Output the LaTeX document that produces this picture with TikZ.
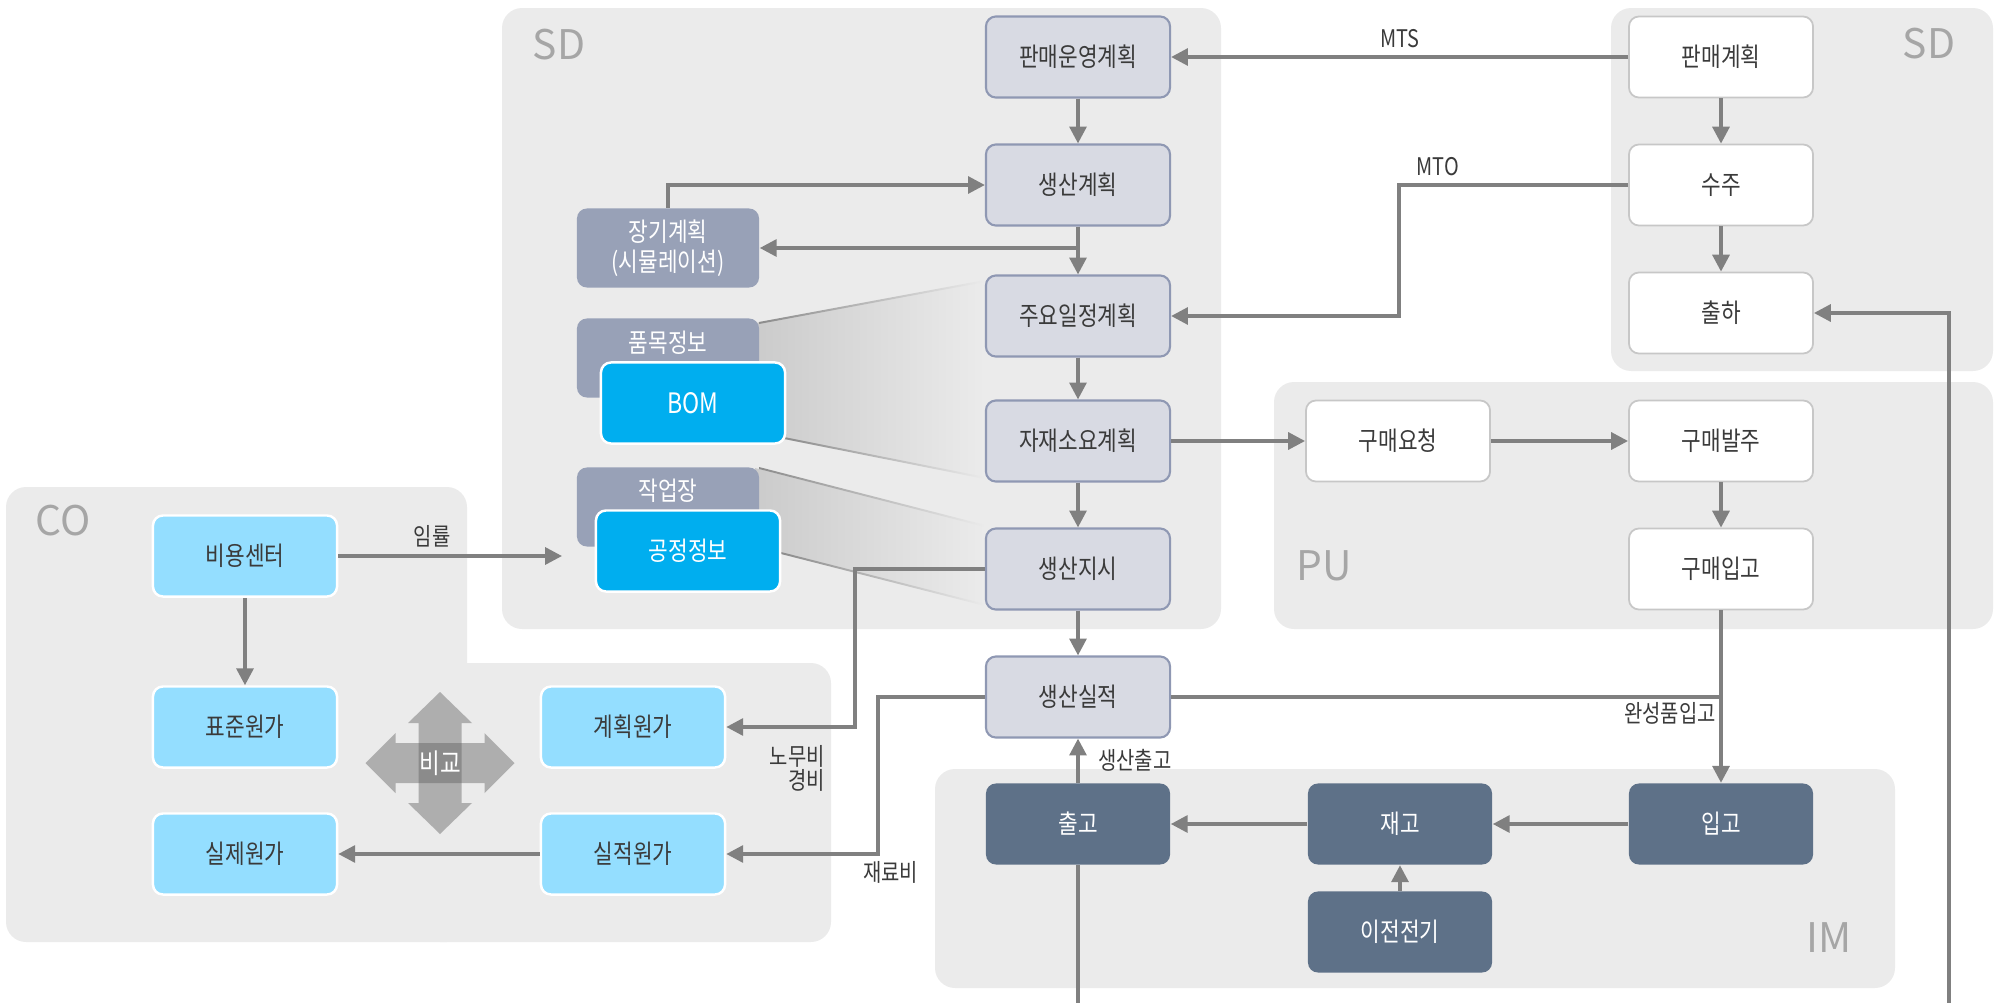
\documentclass[tikz,border=0pt]{standalone}
\usepackage{fontspec}
\setmainfont{Noto Sans CJK KR}[FakeStretch=0.82]
\newfontfamily\tagfont{Noto Sans CJK KR}
\usepackage{tikz}
\usetikzlibrary{arrows.meta}
\usetikzlibrary{calc}
\tikzset{>={Triangle[length=4.8pt,width=4.8pt]}}
\definecolor{panel}{HTML}{EBEBEB}
\definecolor{linkcol}{HTML}{808080}
\definecolor{sdfill}{HTML}{D8DAE3}
\definecolor{sdline}{HTML}{8F98B3}
\definecolor{infofill}{HTML}{98A1B7}
\definecolor{master}{HTML}{00AEEF}
\definecolor{cofill}{HTML}{94DEFF}
\definecolor{imfill}{HTML}{5E7188}
\definecolor{ink}{HTML}{3A3A3A}
\definecolor{tagcol}{HTML}{A6A6A6}
\definecolor{fade}{HTML}{CBCBCB}
\definecolor{fadeline}{HTML}{8C8C8C}
\definecolor{cmpfill}{HTML}{5B5B5B}
\tikzset{
  flowbox/.style={rounded corners=0.1cm, minimum width=1.84cm, minimum height=0.81cm,
    inner sep=0pt, align=center, font=\fontsize{7.4pt}{8.4pt}\selectfont},
  sdbox/.style={flowbox, fill=sdfill, draw=sdline, line width=0.6pt, text=ink},
  whitebox/.style={flowbox, fill=white, draw=black!22, line width=0.5pt, text=ink},
  infobox/.style={flowbox, fill=infofill, text=white, minimum width=1.82cm, minimum height=0.79cm},
  infotext/.style={text=white, font=\fontsize{7.4pt}{8pt}\selectfont, inner sep=0pt, anchor=center},
  masterbox/.style={flowbox, fill=master, draw=white, line width=0.7pt, text=white},
  cobox/.style={flowbox, fill=cofill, draw=white, line width=0.7pt, text=ink},
  imbox/.style={flowbox, fill=imfill, text=white},
  lbl/.style={text=ink, font=\fontsize{6.9pt}{6.9pt}\selectfont, inner sep=1pt},
  modtag/.style={text=tagcol, font=\tagfont\fontsize{11.6pt}{12pt}\selectfont, inner sep=0pt, anchor=base west},
  link/.style={draw=linkcol, line width=1pt},
}

\begin{document}
\begin{tikzpicture}[x=0.01cm, y=-0.01cm]
    \useasboundingbox (0,0) rectangle (1999,1003);
    % module panels
    \fill[panel, rounded corners=0.2cm] (502,8) rectangle (1221,629);
    \fill[panel, rounded corners=0.2cm] (1611,8) rectangle (1993,371);
    \fill[panel, rounded corners=0.2cm] (1274,382) rectangle (1993,629);
    \fill[panel, rounded corners=0.2cm] (6,487) rectangle (467,942);
    \fill[panel, rounded corners=0.2cm] (420,663) rectangle (831,942);
    \fill[panel, rounded corners=0.2cm] (935,769) rectangle (1895,988);
    \node[modtag] (sdtag) at (532,59) {SD};
    \node[modtag] (sdtagr) at (1902,58) {SD};
    \node[modtag] (cotag) at (35,535) {CO};
    \node[modtag] (putag) at (1296,580) {PU};
    \node[modtag] (imtag) at (1806,952) {IM};

    % master data fans
    \shade[left color=fade, right color=panel] (755,323) -- (985,281) -- (985,478) -- (780,438) -- (780,366) -- (755,366) -- cycle;
    \shade[left color=fadeline, right color=panel] (759,322) -- (985,280) -- (985,282) -- (759,324) -- cycle;
    \shade[left color=fadeline, right color=panel] (784,437) -- (985,477) -- (985,479) -- (784,439) -- cycle;
    \shade[left color=fade, right color=panel] (755,468) -- (985,526) -- (985,605) -- (779,553) -- (775,520) -- (755,520) -- cycle;
    \shade[left color=fadeline, right color=panel] (759,467) -- (985,525) -- (985,527) -- (759,469) -- cycle;
    \shade[left color=fadeline, right color=panel] (781,552) -- (985,604) -- (985,606) -- (781,554) -- cycle;

    % SD
    \node[sdbox] (sop) at (1078,57) {판매운영계획};
    \node[sdbox] (pp) at (1078,185) {생산계획};
    \node[sdbox] (mps) at (1078,316) {주요일정계획};
    \node[sdbox] (mrp) at (1078,441) {자재소요계획};
    \node[sdbox] (order) at (1078,569) {생산지시};
    \node[sdbox] (result) at (1078,697) {생산실적};
    \node[infobox] (lt) at (668,248) {장기계획\\(시뮬레이션)};
    \node[infobox, label={[infotext, yshift=-0.25cm]north:품목정보}] (item) at (668,358) {};
    \node[masterbox, font=\fontsize{8pt}{8pt}\selectfont] (bom) at (693,403) {BOM};
    \node[infobox, label={[infotext, yshift=-0.24cm]north:작업장}] (wc) at (668,507) {};
    \node[masterbox] (rt) at (688,551) {공정정보};
    \node[whitebox] (sales) at (1721,57) {판매계획};
    \node[whitebox] (so) at (1721,185) {수주};
    \node[whitebox] (ship) at (1721,313) {출하};

    % PU
    \node[whitebox] (preq) at (1398,441) {구매요청};
    \node[whitebox] (po) at (1721,441) {구매발주};
    \node[whitebox] (gr) at (1721,569) {구매입고};

    % IM
    \node[imbox] (gi) at (1721,824) {입고};
    \node[imbox] (stock) at (1400,824) {재고};
    \node[imbox] (issue) at (1078,824) {출고};
    \node[imbox] (carry) at (1400,932) {이전전기};

    % CO
    \node[cobox] (cc) at (245,556) {비용센터};
    \node[cobox] (std) at (245,727) {표준원가};
    \node[cobox] (act) at (245,854) {실제원가};
    \node[cobox] (plan) at (633,727) {계획원가};
    \node[cobox] (real) at (633,854) {실적원가};

    \coordinate (cmp) at (440,763);
    \fill[cmpfill, fill opacity=0.42, shift={(cmp)}] (0,-71) -- (32,-40) -- (21.5,-40) -- (21.5,40) -- (32,40) -- (0,71)
        -- (-32,40) -- (-21.5,40) -- (-21.5,-40) -- (-32,-40) -- cycle;
    \fill[cmpfill, fill opacity=0.42, shift={(cmp)}] (74.5,0) -- (44.5,30) -- (44.5,20) -- (-44.5,20) -- (-44.5,30) -- (-74.5,0)
        -- (-44.5,-30) -- (-44.5,-20) -- (44.5,-20) -- (44.5,-30) -- cycle;
    \node[text=white, font=\fontsize{7.8pt}{8pt}\selectfont] (cmptext) at (cmp) {비교};

    % connectors
    \draw[link, ->] (sales.west) -- node[lbl, above=1pt] {MTS} (sop.east);
    \coordinate (mtoturn) at (1399,185);
    \draw[link, ->] (so.west) -- node[lbl, above=1pt, pos=0.83] {MTO} (mtoturn) |- (mps.east);
    \draw[link, ->] (sales.south) -- (so.north);
    \draw[link, ->] (so.south) -- (ship.north);
    \coordinate (shipin) at (1949,1003);
    \draw[link, ->] (shipin) |- (ship.east);

    \draw[link, ->] (sop.south) -- (pp.north);
    \draw[link, ->] (pp.south) -- (mps.north);
    \draw[link, ->] (mps.south) -- (mrp.north);
    \draw[link, ->] (mrp.south) -- (order.north);
    \draw[link, ->] (order.south) -- (result.north);
    \draw[link, ->] (lt.north) |- (pp.west);
    \draw[link, ->] (pp.south |- lt.east) -- (lt.east);

    \draw[link, ->] (mrp.east) -- (preq.west);
    \draw[link, ->] (preq.east) -- (po.west);
    \draw[link, ->] (po.south) -- (gr.north);
    \draw[link, ->] (gr.south) -- (gi.north);
    \draw[link] (result.east) -- (result.east -| gi.north) node[lbl, below left] {완성품입고};

    \draw[link, ->] (gi.west) -- (stock.east);
    \draw[link, ->] (stock.west) -- (issue.east);
    \draw[link, ->] (carry.north) -- (stock.south);
    \draw[link, ->] (issue.north) -- node[lbl, right=0.15cm] {생산출고} (result.south);
    \coordinate (issuein) at (1078,1003);
    \draw[link] (issuein) -- (issue.south);

    \coordinate (rate) at (562,556);
    \draw[link, ->] (cc.east) -- node[lbl, above=1pt, pos=0.42] {임률} (rate);
    \draw[link, ->] (cc.south) -- (std.north);
    \draw[link, ->] (real.west) -- (act.east);
    \draw[link, ->] (order.west) -- ++(-130,0) |- (plan.east);
    \node[lbl, align=right, anchor=north east] (labour) at (829,741) {노무비\\경비};
    \draw[link, ->] (result.west) -- ++(-107,0) |- (real.east);
    \node[lbl, anchor=west] (material) at (859,872) {재료비};
\end{tikzpicture}
\end{document}
